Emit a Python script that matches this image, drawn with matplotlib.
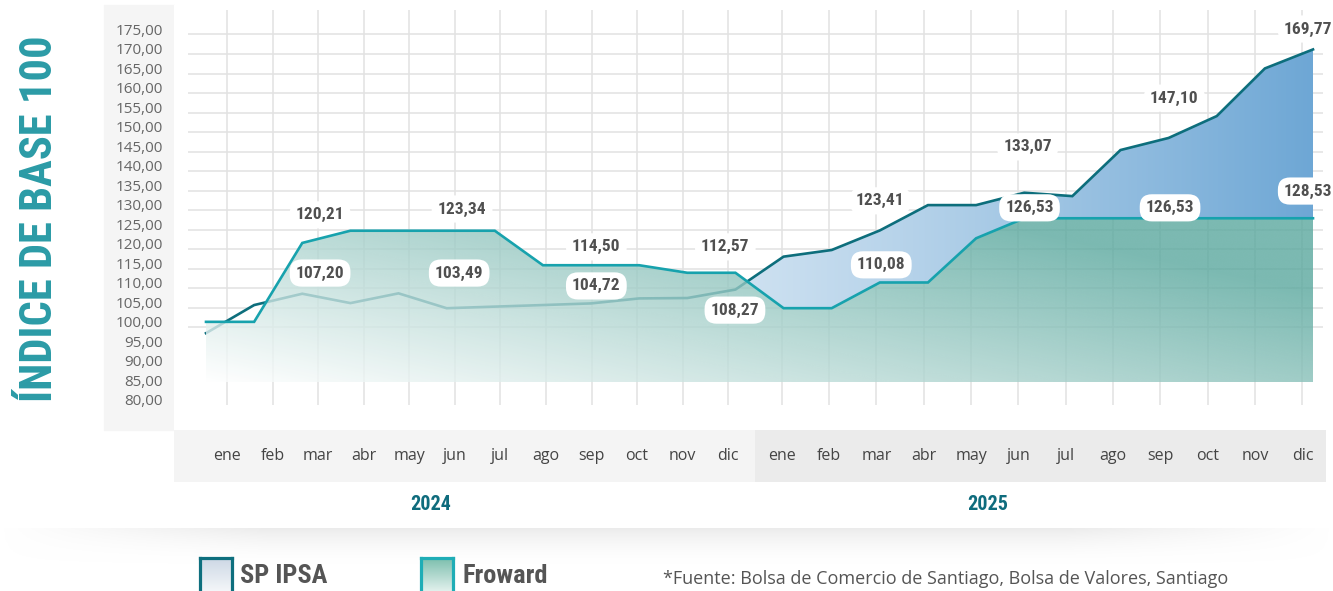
import numpy as np
import matplotlib
matplotlib.use('Agg')
import matplotlib.pyplot as plt
from matplotlib import font_manager
from matplotlib.colors import to_rgb
from matplotlib.patches import Rectangle
from matplotlib.path import Path

# datos (indice base 100)
months = ['ene', 'feb', 'mar', 'abr', 'may', 'jun', 'jul', 'ago', 'sep', 'oct', 'nov', 'dic']
years = ['2024', '2025']

ipsa = [97.1, 104.3, 107.20, 104.8, 107.3, 103.49, 103.9, 104.3, 104.72, 106.0, 106.1, 108.27,
        116.7, 118.4, 123.41, 129.9, 129.9, 133.07, 132.2, 144.0, 147.10, 152.7, 164.9, 169.77]
froward = [100.0, 100.0, 120.21, 123.34, 123.34, 123.34, 123.34, 114.50, 114.50, 114.50, 112.57, 112.57,
           103.5, 103.5, 110.08, 110.08, 121.4, 126.53, 126.53, 126.53, 126.53, 126.53, 126.53, 126.53]

label_text = ['120,21', '107,20', '123,34', '103,49', '114,50', '104,72', '112,57', '108,27',
              '123,41', '110,08', '133,07', '126,53', '147,10', '126,53', '169,77', '128,53']
# posicion de las etiquetas (indice de mes, valor)
label_x = [2.37, 2.37, 5.32, 5.26, 8.11, 8.11, 10.79, 10.99, 14.01, 14.03, 17.07, 17.11, 20.12, 20.03, 22.9, 22.9]
label_y = [127.4, 112.5, 128.9, 112.5, 119.2, 109.2, 119.2, 103.0, 131.0, 114.6, 144.8, 129.2, 157.3, 129.2, 175.0, 133.5]

base = 84.5

names = {f.name for f in font_manager.fontManager.ttflist}


def pick(options):
    for o in options:
        if o in names:
            return o
    return 'DejaVu Sans'


cond = pick(['Liberation Sans Narrow', 'Roboto Condensed', 'Open Sans Condensed', 'DejaVu Sans'])
body = pick(['Open Sans', 'Noto Sans', 'DejaVu Sans'])
plt.rcParams['font.family'] = body

W, H = 1333, 591
fig = plt.figure(figsize=(W / 100, H / 100), dpi=100)


def fx(px):
    return px / W


def fy(py):
    return 1 - py / H


# panel gris de las etiquetas del eje y
fig.add_artist(Rectangle((fx(104), fy(430)), fx(70), 425 / H, transform=fig.transFigure,
                         color='#f5f5f5', zorder=0))

ax = fig.add_axes([fx(174), fy(430), fx(1152), 425 / H])
ax.set_facecolor('white')
x = np.arange(len(ipsa))
ipsa_a = np.array(ipsa)
fw_a = np.array(froward)

xl = (-0.665, 23.27)
yl = (72.3, 181.15)

grid_x = np.concatenate([np.linspace(0.437, 10.85, 12), np.linspace(11.96, 22.78, 12)])
ax.vlines(grid_x, 78.7, 179.9, color='#e2e2e2', lw=1.1, zorder=0.5)
ax.hlines(np.arange(100, 176, 5) - 1.4, -0.37, 23.2, color='#e2e2e2', lw=1.1, zorder=0.5)

# area azul (SP IPSA sobre Froward)
poly = ax.fill_between(x, fw_a, ipsa_a, where=ipsa_a > fw_a, interpolate=True,
                       facecolor='none', edgecolor='none')
clip_blue = Path.make_compound_path(*poly.get_paths())
xs = np.linspace(0, 1, 400)
ys = np.linspace(0, 1, 200)
U, V = np.meshgrid(xs, ys)
t = U ** 1.5
c_blue = np.array(to_rgb('#6ea7d5'))
rgb = 1 - t[..., None] * (1 - c_blue)
im = ax.imshow(np.dstack([rgb, np.ones(t.shape)]), extent=[0, 23, base, 176], origin='lower',
               aspect='auto', zorder=1, interpolation='bilinear')
im.set_clip_path(clip_blue, transform=ax.transData)

ax.plot(x, ipsa, color='#0d6e7c', lw=1.9, zorder=2, solid_joinstyle='miter')

# area verde (Froward)
poly2 = ax.fill_between(x, fw_a, base, facecolor='none', edgecolor='none')
clip_green = Path.make_compound_path(*poly2.get_paths())
V2 = V * (130 - base) / 42
t2 = np.clip(0.72 * U + 0.5 * V2, 0, 1)
c_green = np.array(to_rgb('#5aa89e'))
rgb2 = 1 - t2[..., None] * (1 - c_green)
im2 = ax.imshow(np.dstack([rgb2, np.full(t2.shape, 0.8)]), extent=[0, 23, base, 130], origin='lower',
                aspect='auto', zorder=3, interpolation='bilinear')
im2.set_clip_path(clip_green, transform=ax.transData)

ax.plot(x, froward, color='#17a2ad', lw=1.9, zorder=4, solid_joinstyle='miter')

for tx, lx, ly in zip(label_text, label_x, label_y):
    ax.text(lx, ly, tx, ha='center', va='center', fontsize=12.5, fontweight='bold', family=cond,
            color='#505050', zorder=6, clip_on=False,
            bbox=dict(boxstyle='round,pad=0.35,rounding_size=0.7', fc='white', ec='none'))

ax.set_xlim(xl)
ax.set_ylim(yl)
yt = np.arange(80, 176, 5)
ax.set_yticks(yt)
ax.set_yticklabels([f'{v:.2f}'.replace('.', ',') for v in yt])
ax.set_xticks([])
ax.tick_params(axis='y', length=0, pad=8, labelsize=11, labelcolor='#666666')
for s in ax.spines.values():
    s.set_visible(False)

# banda de meses
ax2 = fig.add_axes([fx(174), fy(482), fx(1152), 52 / H])
split = (grid_x[11] + grid_x[12]) / 2
ax2.axvspan(xl[0], split, color='#f4f4f4', lw=0)
ax2.axvspan(split, xl[1], color='#ebebeb', lw=0)
for gx, m in zip(grid_x, months * 2):
    ax2.text(gx, 0.5, m, ha='center', va='center', fontsize=11.5, color='#444444')
ax2.set_xlim(xl)
ax2.set_ylim(0, 1)
ax2.axis('off')

fig.text(fx(431), fy(504), years[0], ha='center', va='center', fontsize=14.5, fontweight='bold',
         family=cond, color='#0f6c7d')
fig.text(fx(988), fy(504), years[1], ha='center', va='center', fontsize=14.5, fontweight='bold',
         family=cond, color='#0f6c7d')

# titulo vertical
fig.text(fx(40), fy(219), 'ÍNDICE DE BASE 100', rotation=90, ha='center', va='center', fontsize=32,
         fontweight='bold', family=cond, color='#2b9ba6')

# sombra suave
sh = fig.add_axes([0, fy(568), 1, 40 / H])
su, sv = np.meshgrid(np.linspace(0, 1, 300), np.linspace(0, 1, 60))
edge = np.clip(np.minimum(su, 1 - su) / 0.2, 0, 1)
alpha = (sv ** 2) * edge * 0.55
shade = np.dstack([np.full(su.shape, 0.86)] * 3 + [alpha])
sh.imshow(shade, extent=[0, 1, 0, 1], origin='lower', aspect='auto')
sh.axis('off')


# leyenda
def legend_icon(px, top_color, edge_color):
    a = fig.add_axes([fx(px), fy(601), fx(32), 43 / H])
    g = np.linspace(0, 1, 50)[:, None]
    c = np.array(to_rgb(top_color))
    img = 1 - g[..., None] * (1 - c)
    a.imshow(np.repeat(img, 2, axis=1), extent=[0, 1, 0, 1], origin='lower', aspect='auto')
    a.set_xticks([])
    a.set_yticks([])
    for s in a.spines.values():
        s.set_color(edge_color)
        s.set_linewidth(2.3)


legend_icon(200, '#cdd8e5', '#0e6f7e')
legend_icon(421, '#7dbfae', '#1fadb6')
fig.text(fx(240), fy(583), 'SP IPSA', va='baseline', fontsize=19, fontweight='bold', family=cond,
         color='#555555')
fig.text(fx(462), fy(583), 'Froward', va='baseline', fontsize=19, fontweight='bold', family=cond,
         color='#555555')
fig.text(fx(663), fy(584), '*Fuente: Bolsa de Comercio de Santiago, Bolsa de Valores, Santiago',
         va='baseline', fontsize=13, color='#555555')

fig.savefig('out.png', dpi=100)
